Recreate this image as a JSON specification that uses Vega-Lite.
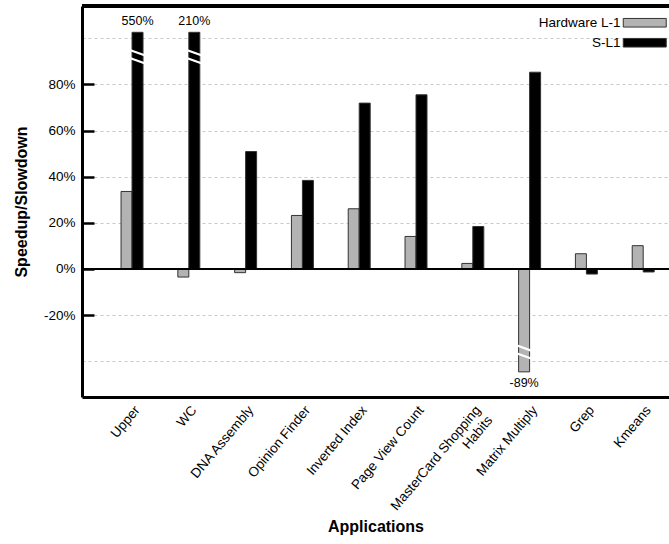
{
  "$schema": "https://vega.github.io/schema/vega-lite/v6.json",
  "width": 587,
  "height": 391,
  "autosize": {"type": "none"},
  "padding": {"left": 82, "top": 6, "right": 0, "bottom": 147},
  "config": {
    "font": "Liberation Sans",
    "view": {"stroke": null},
    "axis": {"labelColor": "#000", "titleColor": "#000", "labelFont": "Liberation Sans", "titleFont": "Liberation Sans"}
  },
  "data": {
    "values": [
      {"app": "Upper", "series": "Hardware L-1", "value": 33.6, "shown": 33.6},
      {"app": "Upper", "series": "S-L1", "value": 550, "shown": 102.6, "label": "550%", "brk": 92},
      {"app": "WC", "series": "Hardware L-1", "value": -3.5, "shown": -3.5},
      {"app": "WC", "series": "S-L1", "value": 210, "shown": 102.6, "label": "210%", "brk": 92},
      {"app": "DNA Assembly", "series": "Hardware L-1", "value": -1.6, "shown": -1.6},
      {"app": "DNA Assembly", "series": "S-L1", "value": 50.9, "shown": 50.9},
      {"app": "Opinion Finder", "series": "Hardware L-1", "value": 23.2, "shown": 23.2},
      {"app": "Opinion Finder", "series": "S-L1", "value": 38.4, "shown": 38.4},
      {"app": "Inverted Index", "series": "Hardware L-1", "value": 26.1, "shown": 26.1},
      {"app": "Inverted Index", "series": "S-L1", "value": 71.9, "shown": 71.9},
      {"app": "Page View Count", "series": "Hardware L-1", "value": 14.1, "shown": 14.1},
      {"app": "Page View Count", "series": "S-L1", "value": 75.5, "shown": 75.5},
      {"app": "MasterCard Shopping Habits", "series": "Hardware L-1", "value": 2.4, "shown": 2.4},
      {"app": "MasterCard Shopping Habits", "series": "S-L1", "value": 18.4, "shown": 18.4},
      {"app": "Matrix Multiply", "series": "Hardware L-1", "value": -89, "shown": -44.6, "label": "-89%", "brk": -36},
      {"app": "Matrix Multiply", "series": "S-L1", "value": 85.3, "shown": 85.3},
      {"app": "Grep", "series": "Hardware L-1", "value": 6.6, "shown": 6.6},
      {"app": "Grep", "series": "S-L1", "value": -2.2, "shown": -2.2},
      {"app": "Kmeans", "series": "Hardware L-1", "value": 10.1, "shown": 10.1},
      {"app": "Kmeans", "series": "S-L1", "value": -1.3, "shown": -1.3}
    ]
  },
  "layer": [
    {
      "mark": {"type": "bar", "stroke": "#333", "strokeWidth": 1},
      "encoding": {
        "x": {
          "field": "app", "type": "nominal", "sort": null,
          "scale": {"paddingInner": 0.613, "paddingOuter": 0.474, "align": 0.725},
          "axis": {
            "title": "Applications", "titleFontSize": 16, "titleFontWeight": "bold",
            "titleY": 121, "titleBaseline": "top",
            "labelAngle": -50, "labelAlign": "right", "labelBaseline": "top", "labelFontSize": 13.5,
            "labelPadding": 6, "ticks": false, "domainColor": "#000", "domainWidth": 3,
            "labelExpr": "datum.value == 'MasterCard Shopping Habits' ? ['MasterCard Shopping', 'Habits'] : datum.value"
          }
        },
        "xOffset": {"field": "series", "type": "nominal", "scale": {"domain": ["Hardware L-1", "S-L1"], "paddingInner": 0}},
        "y": {
          "field": "shown", "type": "quantitative",
          "scale": {"domain": [-55.5, 114], "nice": false},
          "axis": {
            "title": "Speedup/Slowdown", "titleFontSize": 16, "titleFontWeight": "bold", "titlePadding": 14,
            "values": [-40, -20, 0, 20, 40, 60, 80, 100],
            "labelExpr": "datum.value == 100 || datum.value == -40 ? '' : datum.value + '%'",
            "labelFontSize": 13.5, "labelPadding": 19, "tickSize": -12, "tickWidth": 2.5, "tickColor": "#000",
            "tickOpacity": {"condition": {"test": "datum.value == 100 || datum.value == -40", "value": 0}, "value": 1},
            "grid": true, "gridDash": [3, 3], "gridColor": "#c8c8c8", "gridWidth": 1,
            "domainColor": "#000", "domainWidth": 3
          }
        },
        "color": {
          "field": "series", "type": "nominal",
          "scale": {"domain": ["Hardware L-1", "S-L1"], "range": ["#b3b3b3", "#000000"]},
          "legend": {
            "title": null, "orient": "none", "legendX": 556, "legendY": 10,
            "symbolType": "M-4.3,-0.86H4.3V0.86H-4.3Z", "symbolSize": 100,
            "symbolStrokeColor": "#333", "symbolStrokeWidth": 1,
            "labelAlign": "right", "labelOffset": -31, "labelFontSize": 13.5, "labelColor": "#000",
            "rowPadding": 5
          }
        }
      }
    },
    {
      "mark": {"type": "rule", "color": "#000", "strokeWidth": 1.5},
      "encoding": {"y": {"datum": 0}}
    },
    {
      "mark": {"type": "rule", "color": "#000", "strokeWidth": 3},
      "encoding": {"y": {"datum": 114}}
    },
    {
      "transform": [{"filter": "datum.brk != null"}],
      "mark": {"type": "point", "shape": "M-1,-0.93L1,-0.21M-1,0.21L1,0.93", "size": 196, "filled": false, "stroke": "#fff", "strokeWidth": 2.3, "opacity": 1},
      "encoding": {
        "x": {"field": "app", "type": "nominal", "sort": null},
        "xOffset": {"field": "series", "type": "nominal"},
        "y": {"field": "brk", "type": "quantitative"}
      }
    },
    {
      "transform": [{"filter": "datum.label != null && datum.value > 0"}],
      "mark": {"type": "text", "baseline": "bottom", "dy": -4, "fontSize": 12.5, "color": "#000"},
      "encoding": {
        "x": {"field": "app", "type": "nominal", "sort": null},
        "xOffset": {"field": "series", "type": "nominal"},
        "y": {"field": "shown", "type": "quantitative"},
        "text": {"field": "label"}
      }
    },
    {
      "transform": [{"filter": "datum.label != null && datum.value < 0"}],
      "mark": {"type": "text", "baseline": "top", "dy": 5, "fontSize": 12.5, "color": "#000"},
      "encoding": {
        "x": {"field": "app", "type": "nominal", "sort": null},
        "xOffset": {"field": "series", "type": "nominal"},
        "y": {"field": "shown", "type": "quantitative"},
        "text": {"field": "label"}
      }
    }
  ]
}
